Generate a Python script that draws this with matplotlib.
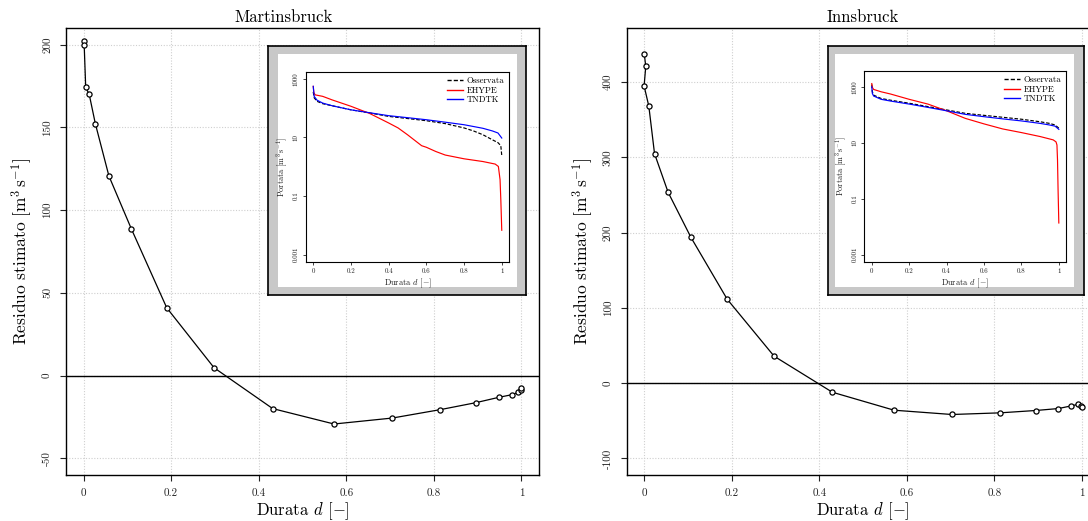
import matplotlib
matplotlib.use("Agg")
import matplotlib.pyplot as plt
from matplotlib.patches import Rectangle
from matplotlib.lines import Line2D

plt.rcParams["font.family"] = "serif"
plt.rcParams["font.serif"] = ["cmr10", "DejaVu Serif"]
plt.rcParams["mathtext.fontset"] = "cm"
plt.rcParams["axes.unicode_minus"] = False
plt.rcParams["axes.formatter.use_mathtext"] = True

# ---- residual curves (main panels) ----
mart_d = [0.0015, 0.0015, 0.005, 0.013, 0.027, 0.058, 0.109, 0.19, 0.298, 0.432,
          0.572, 0.705, 0.815, 0.896, 0.948, 0.978, 0.992, 0.998, 1.0]
mart_res = [202.3, 199.9, 174.1, 169.9, 152.2, 120.6, 88.8, 41.0, 4.8, -19.9,
            -29.2, -25.6, -20.5, -16.3, -13.1, -11.5, -10.1, -8.5, -7.5]

inns_d = [0.0005, 0.004, 0.0002, 0.011, 0.024, 0.055, 0.107, 0.19, 0.297, 0.43,
          0.571, 0.703, 0.813, 0.894, 0.946, 0.976, 0.992, 0.998, 1.0]
inns_res = [438, 421, 395, 368, 305, 253.7, 193.9, 111.5, 35.9, -12.0,
            -35.9, -41.6, -39.4, -36.3, -33.7, -30.1, -27.9, -30.5, -32.3]

# ---- flow duration curves (insets) ----
mart_obs_d = [0, 0.005, 0.02, 0.05, 0.1, 0.2, 0.3, 0.4, 0.5, 0.6, 0.7, 0.8, 0.85,
              0.9, 0.95, 0.98, 0.995, 1.0]
mart_obs_q = [355, 224, 170, 141, 120, 87, 68, 52, 44, 37, 29.5, 21, 16.6, 12.3,
              8.3, 6.6, 5.2, 2.4]
mart_ehype_d = [0, 0.003, 0.01, 0.05, 0.1, 0.2, 0.3, 0.4, 0.45, 0.5, 0.575, 0.6,
                0.65, 0.7, 0.8, 0.9, 0.965, 0.982, 0.991, 0.995, 1.0]
mart_ehype_q = [550, 340, 282, 251, 190, 115, 65, 31, 21, 12.3, 5.2, 4.6, 3.3,
                2.5, 1.86, 1.5, 1.23, 1.02, 0.36, 0.076, 0.0068]
mart_tndtk_d = [0, 0.005, 0.02, 0.05, 0.1, 0.2, 0.3, 0.4, 0.5, 0.6, 0.7, 0.8, 0.9,
                0.95, 0.98, 1.0]
mart_tndtk_q = [550, 250, 186, 148, 120, 87, 69, 55, 47, 40, 33, 27, 20.4, 16.6,
                14.1, 9.5]

inns_obs_d = [0, 0.003, 0.01, 0.05, 0.1, 0.2, 0.3, 0.4, 0.5, 0.6, 0.7, 0.8, 0.9,
              0.95, 0.98, 1.0]
inns_obs_q = [1200, 660, 500, 380, 330, 257, 195, 148, 112, 95, 81, 69, 56, 49,
              43, 33]
inns_ehype_d = [0, 0.003, 0.01, 0.05, 0.1, 0.2, 0.3, 0.4, 0.5, 0.6, 0.7, 0.8, 0.9,
                0.97, 0.985, 0.99, 0.993, 0.996, 1.0]
inns_ehype_q = [1300, 950, 800, 660, 550, 355, 240, 138, 74, 47, 31, 23, 16.6,
                12.6, 10.7, 8.3, 2.45, 0.21, 0.0135]
inns_tndtk_d = [0, 0.003, 0.01, 0.05, 0.1, 0.2, 0.3, 0.4, 0.5, 0.6, 0.7, 0.8, 0.9,
                0.95, 0.98, 1.0]
inns_tndtk_q = [1000, 575, 465, 355, 308, 240, 183, 138, 103, 85, 71, 60, 49, 43,
                39, 30]

x_ticks = [0, 0.2, 0.4, 0.6, 0.8, 1.0]
x_ticklabels = ["0", "0.2", "0.4", "0.6", "0.8", "1"]
mart_yticks = [-50, 0, 50, 100, 150, 200]
inns_yticks = [-100, 0, 100, 200, 300, 400]
fdc_yticks = [0.001, 0.1, 10, 1000]
fdc_yticklabels = ["0.001", "0.1", "10", "1000"]

W, H = 1088, 521
fig = plt.figure(figsize=(W / 100, H / 100), dpi=100)


def px(x0, y0, x1, y1):
    """Convert a pixel box (left, top, right, bottom) into figure fractions."""
    return [x0 / W, (H - y1) / H, (x1 - x0) / W, (y1 - y0) / H]


TXT = "#222222"
GRID = "#cfcfcf"


def main_panel(box, d, res, ylim, yticks, title, title_x):
    ax = fig.add_axes(px(*box))
    ax.set_xlim(-0.04, 1.04)
    ax.set_ylim(*ylim)
    ax.set_xticks(x_ticks)
    ax.set_xticklabels(x_ticklabels)
    ax.set_yticks(yticks)
    ax.set_yticklabels([str(v) for v in yticks], rotation=90, va="center")
    ax.tick_params(labelsize=8, colors=TXT, length=4, width=0.8, pad=6)
    ax.grid(True, color=GRID, linestyle=(0, (1, 1.5)), linewidth=0.8)
    ax.set_axisbelow(True)
    for s in ax.spines.values():
        s.set_linewidth(1.0)
    ax.axhline(0, color="black", linewidth=1.0, zorder=2)
    ax.plot(d, res, color="black", linewidth=0.9, marker="o", markersize=3.7,
            markerfacecolor="white", markeredgecolor="black", markeredgewidth=0.9,
            zorder=3)
    ax.set_xlabel(r"Durata $d$ $[-]$", fontsize=12, labelpad=1)
    ax.set_ylabel(r"Residuo stimato $[\mathrm{m}^3\,\mathrm{s}^{-1}]$",
                  fontsize=12.5, labelpad=6)
    ax.set_title(title, fontsize=12, x=title_x, pad=4)
    return ax


def inset(frame_box, inner_frac, ax_box, ylim, series):
    fr = fig.add_axes(px(*frame_box))
    fr.set_facecolor("#c8c8c8")
    fr.set_xticks([])
    fr.set_yticks([])
    for s in fr.spines.values():
        s.set_linewidth(1.2)
    x0, x1, y0, y1 = inner_frac
    fr.add_patch(Rectangle((x0, y0), x1 - x0, y1 - y0, transform=fr.transAxes,
                           facecolor="white", edgecolor="none"))
    ia = fig.add_axes(px(*ax_box))
    ia.set_yscale("log")
    ia.set_xlim(-0.04, 1.04)
    ia.set_ylim(*ylim)
    ia.set_xticks(x_ticks)
    ia.set_xticklabels(x_ticklabels)
    ia.set_yticks(fdc_yticks)
    ia.set_yticklabels(fdc_yticklabels, rotation=90, va="center")
    ia.minorticks_off()
    ia.tick_params(labelsize=5, colors=TXT, length=2.5, width=0.6, pad=2.5)
    for s in ia.spines.values():
        s.set_linewidth(0.8)
    handles = []
    for (dd, qq, col, ls, lab) in series:
        ia.plot(dd, qq, color=col, linestyle=ls, linewidth=0.85)
        handles.append(Line2D([], [], color=col, linestyle=ls, linewidth=1.0,
                              label=lab))
    ia.set_xlabel(r"Durata $d$ $[-]$", fontsize=6, labelpad=1.5, color=TXT)
    ia.set_ylabel(r"Portata $[\mathrm{m}^3\,\mathrm{s}^{-1}]$", fontsize=6,
                  labelpad=2, color=TXT)
    ia.legend(handles=handles, loc="upper right", frameon=False, fontsize=6.3,
              handlelength=1.8, handletextpad=0.4, labelspacing=0.1,
              borderaxespad=0.2)
    return ia


main_panel((66, 28, 539, 475), mart_d, mart_res, (-60, 210), mart_yticks,
           "Martinsbruck", 0.461)
main_panel((626.5, 28, 1099.5, 475), inns_d, inns_res, (-122, 472), inns_yticks,
           "Innsbruck", 0.5)

inset((268.3, 46, 526, 295), (0.0365, 0.9651, 0.0321, 0.9679),
      (305.7, 71.7, 509.3, 261.7), (10 ** -3.24, 10 ** 3.24),
      [(mart_obs_d, mart_obs_q, "black", (0, (3, 1.5)), "Osservata"),
       (mart_ehype_d, mart_ehype_q, "red", "-", "EHYPE"),
       (mart_tndtk_d, mart_tndtk_q, "blue", "-", "TNDTK")])

inset((827.7, 46, 1084.3, 295), (0.0284, 0.961, 0.0321, 0.9679),
      (864.3, 70.7, 1066.3, 261.7), (10 ** -3.253, 10 ** 3.573),
      [(inns_obs_d, inns_obs_q, "black", (0, (3, 1.5)), "Osservata"),
       (inns_ehype_d, inns_ehype_q, "red", "-", "EHYPE"),
       (inns_tndtk_d, inns_tndtk_q, "blue", "-", "TNDTK")])

fig.savefig("out.png", dpi=100)
